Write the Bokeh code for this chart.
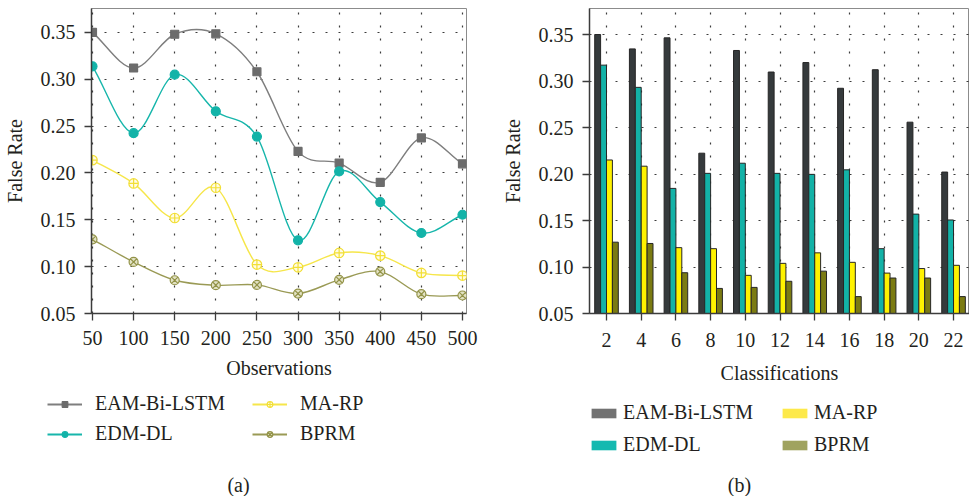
from bokeh.plotting import figure
from bokeh.layouts import row, column
from bokeh.models import Range1d, Legend, LegendItem, Label, NumeralTickFormatter, ColumnDataSource
from bokeh.transform import dodge
from bokeh.embed import file_html
from bokeh.resources import INLINE

FONT = "Liberation Serif"
TXT = "#231f20"

# ---------------- data (a) ----------------
observations = [50, 100, 150, 200, 250, 300, 350, 400, 450, 500]
eam_a = [0.350, 0.312, 0.348, 0.3485, 0.308, 0.223, 0.2105, 0.190, 0.2374, 0.2097]
edm_a = [0.3138, 0.2424, 0.3049, 0.2658, 0.2388, 0.1281, 0.2016, 0.1689, 0.1359, 0.1554]
marp_a = [0.2137, 0.1888, 0.1519, 0.1842, 0.1022, 0.0993, 0.1146, 0.1118, 0.0933, 0.0905]
bprm_a = [0.1292, 0.1050, 0.0855, 0.0802, 0.0805, 0.0713, 0.0859, 0.0947, 0.0706, 0.0692]

# ---------------- data (b) ----------------
classes = [2, 4, 6, 8, 10, 12, 14, 16, 18, 20, 22]
eam_b = [0.3504, 0.3349, 0.3468, 0.2226, 0.3332, 0.3100, 0.3202, 0.2925, 0.3125, 0.2560, 0.2023]
edm_b = [0.3174, 0.2935, 0.1847, 0.2009, 0.2118, 0.2009, 0.1998, 0.2047, 0.1198, 0.1570, 0.1507]
marp_b = [0.2153, 0.2086, 0.1209, 0.1198, 0.0911, 0.1040, 0.1153, 0.1051, 0.0935, 0.0984, 0.1019]
bprm_b = [0.1268, 0.1254, 0.0939, 0.0770, 0.0781, 0.0847, 0.0956, 0.0682, 0.0882, 0.0882, 0.0682]

y_ticks = [0.05, 0.10, 0.15, 0.20, 0.25, 0.30, 0.35]
series_names = ["EAM-Bi-LSTM", "EDM-DL", "MA-RP", "BPRM"]


def style(p):
    for ax in (p.xaxis[0], p.yaxis[0]):
        ax.axis_line_color = "#3c3c3c"
        ax.axis_line_width = 1.5
        ax.major_tick_line_color = "#3c3c3c"
        ax.major_tick_line_width = 1.3
        ax.major_tick_in = 0
        ax.major_tick_out = 7
        ax.minor_tick_line_color = None
        ax.major_label_text_font = FONT
        ax.major_label_text_font_size = "20px"
        ax.major_label_text_color = TXT
        ax.axis_label_text_font = FONT
        ax.axis_label_text_font_size = "20px"
        ax.axis_label_text_font_style = "normal"
        ax.axis_label_text_color = TXT
    p.xaxis.major_label_standoff = 10
    p.yaxis.major_label_standoff = 9
    p.xaxis.axis_label_standoff = 9
    p.yaxis.axis_label_standoff = 12
    p.yaxis.ticker = y_ticks
    p.yaxis.formatter = NumeralTickFormatter(format="0.00")
    p.outline_line_color = "#8c8c8c"
    p.outline_line_width = 1
    for g in (p.xgrid[0], p.ygrid[0]):
        g.grid_line_color = "#1a1a1a"
        g.grid_line_dash = "2 11"
        g.grid_line_width = 1.2
        g.grid_line_alpha = 0.85
    p.background_fill_color = "white"
    p.border_fill_color = "white"


def smooth(xs, ys):
    n = len(xs)
    mx, my = [], []
    for i in range(n):
        if i == 0:
            dx, dy = xs[1] - xs[0], ys[1] - ys[0]
        elif i == n - 1:
            dx, dy = xs[-1] - xs[-2], ys[-1] - ys[-2]
        else:
            dx, dy = (xs[i + 1] - xs[i - 1]) / 2, (ys[i + 1] - ys[i - 1]) / 2
        mx.append(dx)
        my.append(dy)
    return dict(
        x0=xs[:-1], y0=ys[:-1], x1=xs[1:], y1=ys[1:],
        cx0=[xs[i] + mx[i] / 3 for i in range(n - 1)],
        cy0=[ys[i] + my[i] / 3 for i in range(n - 1)],
        cx1=[xs[i + 1] - mx[i + 1] / 3 for i in range(n - 1)],
        cy1=[ys[i + 1] - my[i + 1] / 3 for i in range(n - 1)],
    )


def make_legend(items, loc, gw, gh, standoff, spacing):
    return Legend(items=items, location=loc, orientation="vertical", padding=0, margin=0,
                  border_line_color=None, background_fill_alpha=0,
                  label_text_font=FONT, label_text_font_size="20px", label_text_color=TXT,
                  glyph_width=gw, glyph_height=gh, label_height=22, label_standoff=standoff,
                  spacing=spacing)


def blank(width, height):
    f = figure(width=width, height=height, x_range=Range1d(0, 1), y_range=Range1d(0, 1),
               output_backend="svg", toolbar_location=None, min_border=0,
               x_axis_location=None, y_axis_location=None)
    f.grid.visible = False
    f.outline_line_color = None
    f.background_fill_color = "white"
    f.border_fill_color = "white"
    return f


# off-screen placeholder point so that legend-only renderers have one row of data
OFF = [50]

# ---------------- panel (a) ----------------
pa = figure(width=498, height=392, x_range=Range1d(48.8, 504.9), y_range=Range1d(0.05, 0.3755),
            output_backend="svg", toolbar_location=None,
            min_border_left=91, min_border_right=32, min_border_top=8, min_border_bottom=79)
pa.xaxis.axis_label = "Observations"
pa.yaxis.axis_label = "False Rate"
style(pa)
pa.xaxis.ticker = observations

la = blank(498, 104)

line_specs = [
    (eam_a, "#7e7e7e", "square", "#6c6c6c", "#6c6c6c", 8),
    (edm_a, "#17b6ab", "circle", "#12b3a8", "#12b3a8", 9),
    (marp_a, "#f6e64a", "circle_cross", "#f2df36", "#fffbe3", 9.5),
    (bprm_a, "#9a9a55", "circle_x", "#939348", "#e2e2c4", 9),
]
items_a = []
for name, (vals, lc, mk, mlc, mfc, ms) in zip(series_names, line_specs):
    pa.bezier(source=ColumnDataSource(smooth(observations, vals)), x0="x0", y0="y0", x1="x1", y1="y1",
              cx0="cx0", cy0="cy0", cx1="cx1", cy1="cy1", line_color=lc, line_width=1.4)
    pa.scatter(observations, vals, marker=mk, size=ms, line_color=mlc, fill_color=mfc, line_width=1.2)
    dl = la.line(OFF, OFF, line_color=lc, line_width=2)
    ds = la.scatter(OFF, OFF, marker=mk, line_color=mlc, fill_color=mfc, line_width=1.2)
    items_a.append(LegendItem(label=name, renderers=[dl, ds]))

la.add_layout(make_legend([items_a[0], items_a[1]], (47, 51), 35, 14, 13, 7))
la.add_layout(make_legend([items_a[2], items_a[3]], (252, 51), 35, 14, 13, 7))
la.add_layout(Label(x=238, y=12, x_units="screen", y_units="screen", text="(a)",
                    text_align="center", text_baseline="middle", text_font=FONT,
                    text_font_size="20px", text_color=TXT))

# ---------------- panel (b) ----------------
pb = figure(width=471, height=392, x_range=Range1d(1.02, 22.92), y_range=Range1d(0.05, 0.3784),
            output_backend="svg", toolbar_location=None,
            min_border_left=91, min_border_right=0, min_border_top=8, min_border_bottom=72)
pb.xaxis.axis_label = "Classifications"
pb.yaxis.axis_label = "False Rate"
style(pb)
pb.xaxis.ticker = classes
pb.xaxis.major_label_standoff = 12
pb.xaxis.axis_label_standoff = 12

lb = blank(471, 104)

src = ColumnDataSource(dict(cls=classes, eam=eam_b, edm=edm_b, marp=marp_b, bprm=bprm_b))
bar_cols = ["eam", "edm", "marp", "bprm"]
bar_fill = ["#353a3c", "#13b2a7", "#fff200", "#7b7b12"]
legend_fill = ["#727272", "#14b9b0", "#fde94a", "#a0a35f"]
offsets = [-0.51, -0.17, 0.17, 0.51]
items_b = []
for name, col, fc, lfc, off in zip(series_names, bar_cols, bar_fill, legend_fill, offsets):
    pb.vbar(x=dodge("cls", off, range=pb.x_range), top=col, bottom=0.05, width=0.34, source=src,
            fill_color=fc, line_color="#262626", line_width=1)
    dr = lb.vbar(x=OFF, top=OFF, bottom=OFF, width=0.34, fill_color=lfc, line_color=None)
    items_b.append(LegendItem(label=name, renderers=[dr]))

lb.add_layout(make_legend([items_b[0], items_b[1]], (90, 40), 31, 12, 4, 9))
lb.add_layout(make_legend([items_b[2], items_b[3]], (281, 40), 31, 12, 4, 9))
lb.add_layout(Label(x=241, y=12, x_units="screen", y_units="screen", text="(b)",
                    text_align="center", text_baseline="middle", text_font=FONT,
                    text_font_size="20px", text_color=TXT))

layout = column(row(pa, pb), row(la, lb))
open("out.html", "w").write(file_html(layout, INLINE))
